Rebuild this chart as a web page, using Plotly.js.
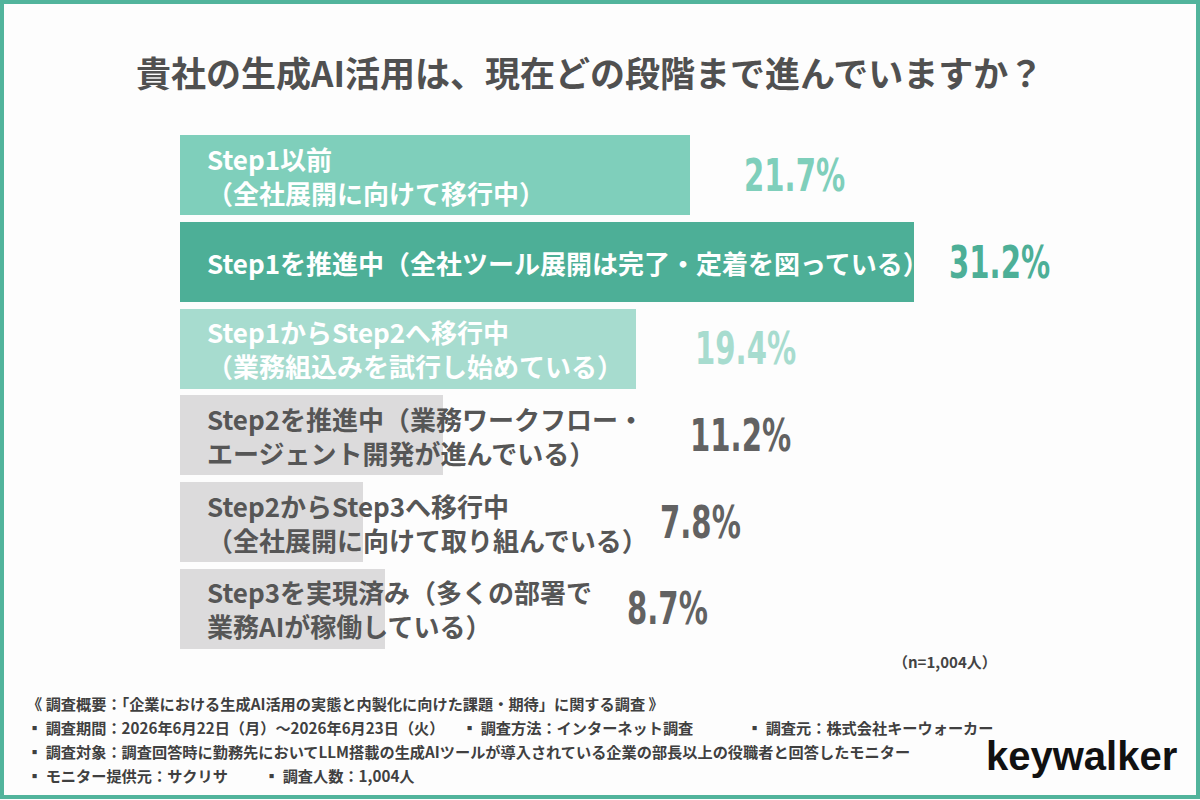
<!DOCTYPE html>
<html>
<head>
<meta charset="utf-8">
<script src="https://cdn.plot.ly/plotly-3.0.1.min.js"></script>
<style>
  html, body { margin: 0; padding: 0; background: #fdfdfd; }
  #chart { width: 1200px; height: 800px; }
</style>
</head>
<body>
<div id="chart"></div>
<script>
// Survey answers: stage of generative-AI adoption (share of respondents, %)
const stages = [
  'Step1以前<br>（全社展開に向けて移行中）',
  'Step1を推進中（全社ツール展開は完了・定着を図っている）',
  'Step1からStep2へ移行中<br>（業務組込みを試行し始めている）',
  'Step2を推進中（業務ワークフロー・<br>エージェント開発が進んでいる）',
  'Step2からStep3へ移行中<br>（全社展開に向けて取り組んでいる）',
  'Step3を実現済み（多くの部署で<br>業務AIが稼働している）'
];
const shares = [21.7, 31.2, 19.4, 11.2, 7.8, 8.7];

const titleText = '貴社の生成AI活用は、現在どの段階まで進んでいますか？';
const sampleNote = '（n=1,004人）';
const footerLines = [
  ['《 調査概要：「企業における生成AI活用の実態と内製化に向けた課題・期待」に関する調査 》'],
  ['▪ 調査期間：2026年6月22日（月）〜2026年6月23日（火）', '▪ 調査方法：インターネット調査', '▪ 調査元：株式会社キーウォーカー'],
  ['▪ 調査対象：調査回答時に勤務先においてLLM搭載の生成AIツールが導入されている企業の部長以上の役職者と回答したモニター'],
  ['▪ モニター提供元：サクリサ', '▪ 調査人数：1,004人']
];
const brand = 'keywalker';

// styling
const barColors   = ['#7fcfbb', '#4daf97', '#a7dccf', '#dcdbdc', '#dcdbdc', '#dcdbdc'];
const labelColors = ['#ffffff', '#ffffff', '#ffffff', '#565656', '#565656', '#565656'];
const valueColors = ['#7fcfbb', '#4daf97', '#a7dccf', '#626262', '#626262', '#626262'];
// x position (axis units) where each percentage label starts
const valueLabelAt = [23.9, 32.6, 21.8, 21.6, 20.3, 18.9];
// horizontal start (px) of footer columns
const footerCols = [[25], [25, 460, 745], [25], [25, 262]];
const footerRowsY = [703, 727, 751, 775];

const W = 1200, H = 800;
const M = { l: 180, r: 79, t: 132, b: 148 };
const PW = W - M.l - M.r, PH = H - M.t - M.b;
const px = x => (x - M.l) / PW;
const py = y => 1 - (y - M.t) / PH;

const jp = '"Noto Sans CJK JP", "Noto Sans", sans-serif';
const numFont = '"DejaVu Sans Condensed", "DejaVu Sans", sans-serif';

const trace = {
  type: 'bar',
  orientation: 'h',
  y: stages,
  x: shares,
  width: 0.924,
  marker: { color: barColors, line: { width: 0 } },
  hoverinfo: 'skip'
};

const annotations = [];

// stage labels inside the bars
stages.forEach((s, i) => {
  annotations.push({
    xref: 'x', yref: 'y', x: 0, y: s,
    xanchor: 'left', yanchor: 'middle', align: 'left',
    xshift: 25, showarrow: false,
    text: s,
    font: { family: jp, size: 26, weight: 'bold', color: labelColors[i] }
  });
});

// percentage labels
const valueIdx = [];
shares.forEach((v, i) => {
  valueIdx.push(annotations.length);
  annotations.push({
    xref: 'x', yref: 'y', x: valueLabelAt[i], y: stages[i],
    xanchor: 'left', yanchor: 'middle',
    showarrow: false,
    text: v.toFixed(1) + '%',
    font: { family: numFont, size: 45, weight: 'bold', color: valueColors[i] }
  });
});

// chart title
annotations.push({
  xref: 'paper', yref: 'paper', x: px(589), y: py(72),
  xanchor: 'center', yanchor: 'middle', showarrow: false,
  text: titleText,
  font: { family: jp, size: 35, weight: 'bold', color: '#505050' }
});

// sample size
annotations.push({
  xref: 'paper', yref: 'paper', x: px(945), y: py(661),
  xanchor: 'center', yanchor: 'middle', showarrow: false,
  text: sampleNote,
  font: { family: jp, size: 15, weight: 'bold', color: '#444444' }
});

// survey outline
footerLines.forEach((row, r) => {
  row.forEach((t, c) => {
    annotations.push({
      xref: 'paper', yref: 'paper', x: px(footerCols[r][c]), y: py(footerRowsY[r]),
      xanchor: 'left', yanchor: 'middle', showarrow: false,
      text: t,
      font: { family: jp, size: 15.2, weight: 'bold', color: '#404040' }
    });
  });
});

// brand mark
annotations.push({
  xref: 'paper', yref: 'paper', x: px(1081), y: py(756),
  xanchor: 'center', yanchor: 'middle', showarrow: false,
  text: brand,
  font: { family: '"Liberation Sans", Arial, sans-serif', size: 40, weight: 'bold', color: '#111111' }
});

const layout = {
  width: W, height: H,
  margin: M,
  paper_bgcolor: '#fdfdfd',
  plot_bgcolor: 'rgba(0,0,0,0)',
  showlegend: false,
  bargap: 0,
  xaxis: { range: [0, 40], visible: false, fixedrange: true },
  yaxis: {
    type: 'category', categoryorder: 'array', categoryarray: stages,
    range: [5.5, -0.5], visible: false, fixedrange: true
  },
  annotations: annotations,
  shapes: [{
    type: 'rect', xref: 'paper', yref: 'paper',
    x0: px(2), x1: px(1198), y0: py(2), y1: py(797),
    line: { color: '#52b49c', width: 4 }, fillcolor: 'rgba(0,0,0,0)'
  }]
};

Plotly.newPlot('chart', [trace], layout, { displayModeBar: false, staticPlot: true }).then(gd => {
  // condensed look for the percentage figures, squeezed from their left edge
  valueIdx.forEach(i => {
    const t = gd.querySelector('.annotation[data-index="' + i + '"] text');
    if (t) {
      t.style.transformBox = 'fill-box';
      t.style.transformOrigin = 'left center';
      t.style.transform = 'scaleX(0.72)';
    }
  });
});
</script>
</body>
</html>
